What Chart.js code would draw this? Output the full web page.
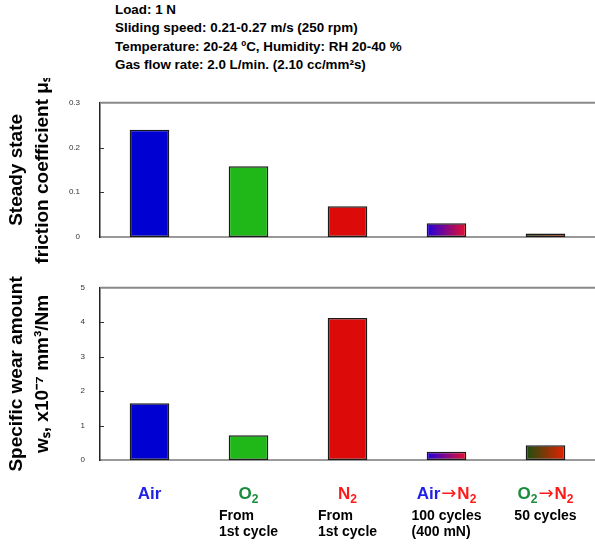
<!DOCTYPE html>
<html>
<head>
<meta charset="utf-8">
<script src="https://cdn.jsdelivr.net/npm/chart.js@4.4.1/dist/chart.umd.min.js"></script>
<style>
  body { margin: 0; background: #fff; }
  #head { position: absolute; left: 115px; top: 1px; font: bold 13.4px 'Liberation Sans', Arial, sans-serif; line-height: 18.3px; color: #000; white-space: pre; }
  #friction { position: absolute; left: 0; top: 78px; }
  #wear { position: absolute; left: 0; top: 268px; }
</style>
</head>
<body>
<div id="head"></div>
<canvas id="friction" width="595" height="190"></canvas>
<canvas id="wear" width="595" height="282"></canvas>
<script>
var headerLines = [
    'Load: 1 N',
    'Sliding speed: 0.21-0.27 m/s (250 rpm)',
    'Temperature: 20-24 ºC, Humidity: RH 20-40 %',
    'Gas flow rate: 2.0 L/min. (2.10 cc/mm²s)'
];
var categories = ['Air', 'O₂', 'N₂', 'Air→N₂', 'O₂→N₂'];
var subLabels = [[], ['From', '1st cycle'], ['From', '1st cycle'], ['100 cycles', '(400 mN)'], ['50 cycles']];
var frictionValues = [0.240, 0.158, 0.069, 0.031, 0.008];
var wearValues = [1.65, 0.72, 4.12, 0.24, 0.43];
var frictionTicks = [0, 0.1, 0.2, 0.3];
var wearTicks = [0, 1, 2, 3, 4, 5];
var frictionTitle = ['Steady state', 'friction coefficient μₛ'];
var wearTitle = ['Specific wear amount', 'wₛ, x10⁻⁷ mm³/Nm'];

// styles
var FONT = "'Liberation Sans', Arial, sans-serif";
var BAR_PCT = 0.4;
var barStyles = ['#0000d2', '#20b818', '#dd0a0a', ['#2000e0', '#e8102c'], ['#1a5010', '#e82000']];
var gasColors = { 'Air': '#1f1fe6', 'O₂': '#1a8c3c', 'N₂': '#ff1a1a', '→': '#ff1a1a' };

Chart.defaults.font.family = FONT;
Chart.defaults.color = '#000';

document.getElementById('head').textContent = headerLines.join('\n');

function barFill(c) {
    var s = barStyles[c.dataIndex];
    if (!Array.isArray(s)) return s;
    var chart = c.chart, xs = chart.scales.x;
    if (!xs || !chart.chartArea) return s[0];
    var cx = xs.getPixelForValue(c.dataIndex);
    var w = xs.width / categories.length * BAR_PCT;
    var g = chart.ctx.createLinearGradient(cx - w / 2, 0, cx + w / 2, 0);
    g.addColorStop(0, s[0]);
    g.addColorStop(1, s[1]);
    return g;
}

// top border line + small inside ticks on the y axis
var framePlugin = {
    id: 'frame',
    afterDraw: function(chart) {
        var ctx = chart.ctx, a = chart.chartArea, ys = chart.scales.y;
        ctx.save();
        ctx.strokeStyle = '#888';
        ctx.lineWidth = 2;
        ctx.beginPath();
        ctx.moveTo(a.left, a.top);
        ctx.lineTo(a.right, a.top);
        ctx.stroke();
        ctx.strokeStyle = '#333';
        ctx.lineWidth = 1;
        ys.ticks.forEach(function(t) {
            if (t.value === ys.min || t.value === ys.max) return;
            var y = Math.round(ys.getPixelForValue(t.value)) + 0.5;
            ctx.beginPath();
            ctx.moveTo(a.left, y);
            ctx.lineTo(a.left + 4, y);
            ctx.stroke();
        });
        ctx.restore();
    }
};

function runs(text) {
    // split text into normal / subscript runs
    var out = [];
    for (var ch of text) {
        var code = ch.charCodeAt(0);
        var sub = code >= 0x2080 && code <= 0x2089;
        var c = sub ? String.fromCharCode(code - 0x2080 + 48) : ch;
        if (out.length && out[out.length - 1].sub === sub) out[out.length - 1].t += c;
        else out.push({ t: c, sub: sub });
    }
    return out;
}

function pieceFont(p) {
    if (p.t === '→') return '18px "DejaVu Sans", sans-serif';
    return p.sub ? 'bold 12px ' + FONT : 'bold 17px ' + FONT;
}

function drawGasLabel(ctx, label, cx, y) {
    var tokens = label.split(/(→)/).filter(Boolean);
    var pieces = [];
    var total = 0;
    tokens.forEach(function(tok) {
        runs(tok).forEach(function(r) {
            var p = { t: r.t, sub: r.sub, color: gasColors[tok] || '#000' };
            ctx.font = pieceFont(p);
            p.w = ctx.measureText(r.t).width + (r.t === '→' ? 2 : 0);
            pieces.push(p);
            total += p.w;
        });
    });
    var x = cx - total / 2;
    ctx.textAlign = 'left';
    ctx.textBaseline = 'middle';
    pieces.forEach(function(p) {
        ctx.font = pieceFont(p);
        ctx.fillStyle = p.color;
        ctx.fillText(p.t, p.t === '→' ? x + 1 : x, p.sub ? y + 6 : y);
        x += p.w;
    });
}

var xLabelPlugin = {
    id: 'xLabels',
    afterDraw: function(chart) {
        var ctx = chart.ctx, xs = chart.scales.x, bottom = chart.chartArea.bottom;
        ctx.save();
        categories.forEach(function(cat, i) {
            var cx = xs.getPixelForValue(i);
            drawGasLabel(ctx, cat, cx, bottom + 34);
            var lines = subLabels[i];
            if (!lines.length) return;
            ctx.font = 'bold 14px ' + FONT;
            ctx.fillStyle = '#000';
            ctx.textAlign = 'left';
            var w = Math.max.apply(null, lines.map(function(l) { return ctx.measureText(l).width; }));
            lines.forEach(function(l, j) {
                ctx.fillText(l, cx - w / 2, bottom + 56 + j * 16);
            });
        });
        ctx.restore();
    }
};

function makeChart(id, values, ticks, title, padTop, padBottom, tickPad, plugins) {
    return new Chart(document.getElementById(id), {
        type: 'bar',
        data: {
            labels: categories,
            datasets: [{
                data: values,
                backgroundColor: barFill,
                borderColor: '#1a1a1a',
                borderWidth: 1.5,
                borderSkipped: false,
                barPercentage: BAR_PCT,
                categoryPercentage: 1
            }]
        },
        options: {
            responsive: false,
            animation: false,
            layout: { padding: { top: padTop, bottom: padBottom, left: 0, right: 0 } },
            plugins: { legend: { display: false }, tooltip: { enabled: false } },
            scales: {
                x: {
                    grid: { display: false, drawTicks: false },
                    ticks: { display: false },
                    border: { display: true, color: '#999', width: 2 },
                    afterFit: function(s) { s.height = 0; }
                },
                y: {
                    min: ticks[0],
                    max: ticks[ticks.length - 1],
                    afterBuildTicks: function(s) { s.ticks = ticks.map(function(v) { return { value: v }; }); },
                    grid: { display: false, drawTicks: false },
                    border: { display: true, color: '#222', width: 1.5 },
                    ticks: { padding: tickPad, color: '#333', font: { size: 8 } },
                    title: {
                        display: true,
                        text: title,
                        font: { size: 19, weight: 'bold', lineHeight: 1.35 },
                        padding: { top: 4, bottom: 0 }
                    },
                    afterFit: function(s) { s.width = 100; }
                }
            }
        },
        plugins: plugins
    });
}

makeChart('friction', frictionValues, frictionTicks, frictionTitle, 13, 31, 20, [framePlugin]);
makeChart('wear', wearValues, wearTicks, wearTitle, 18, 90, 15, [framePlugin, xLabelPlugin]);
</script>
</body>
</html>
